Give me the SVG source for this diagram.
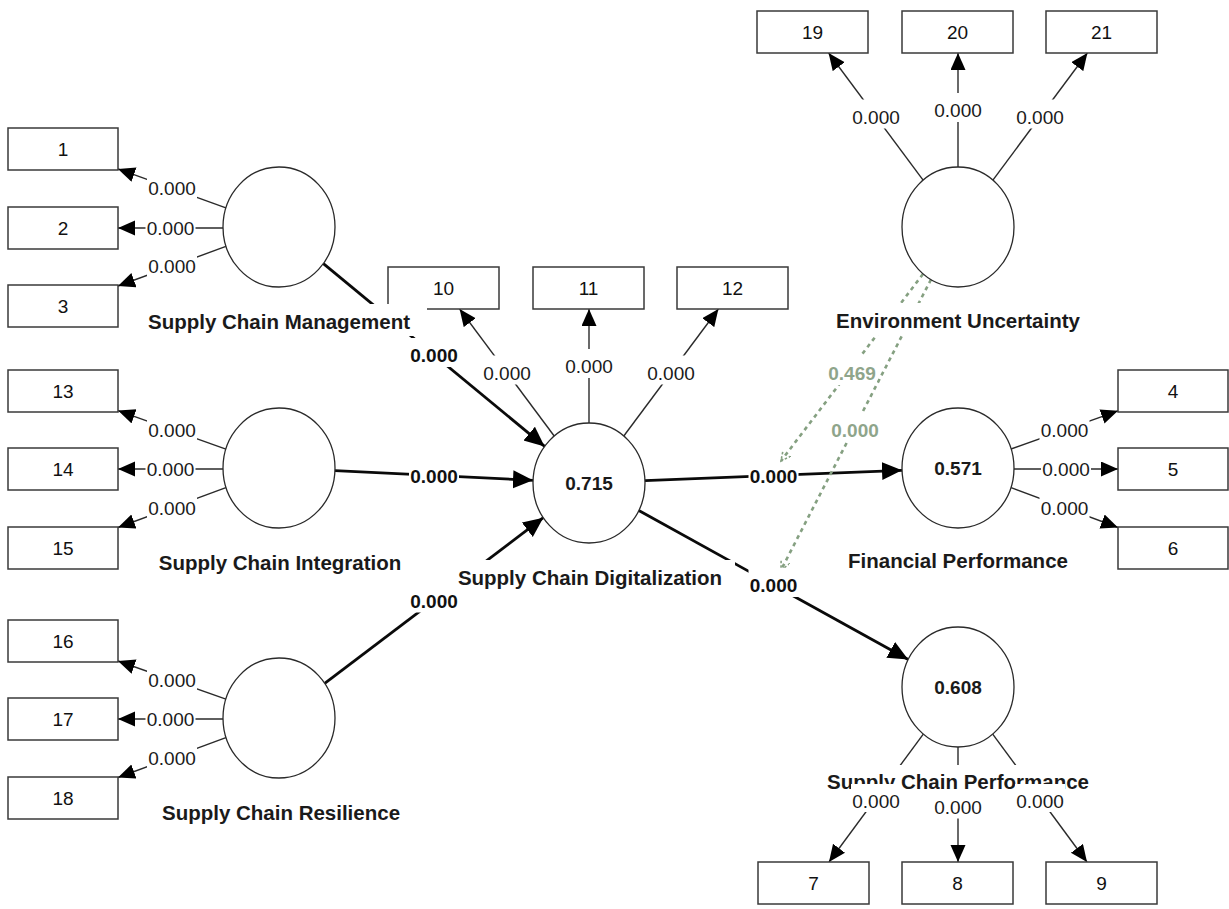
<svg xmlns="http://www.w3.org/2000/svg" width="1229" height="909" viewBox="0 0 1229 909">
<defs>
<style>
text{font-family:"Liberation Sans",Arial,sans-serif;}
.box{fill:#fff;stroke:#3a3a3a;stroke-width:1.5;}
.lv{fill:#fff;stroke:#2a2a2a;stroke-width:1.3;}
.bt{font-size:19px;fill:#111;text-anchor:middle;}
.ln{font-size:20.5px;font-weight:bold;fill:#1a1a1a;text-anchor:middle;}
.r2{font-size:19px;font-weight:bold;fill:#1a1a1a;text-anchor:middle;}
.thin{stroke:#2a2a2a;stroke-width:1.4;fill:none;marker-end:url(#ah);}
.thick{stroke:#0a0a0a;stroke-width:2.8;fill:none;marker-end:url(#ahb);}
.dash{stroke:#85a081;stroke-width:2.6;stroke-dasharray:4 4;fill:none;marker-end:url(#ahd);}
.bg{fill:#fff;}
.pl{font-size:19px;fill:#1a1a1a;text-anchor:middle;}
.plb{font-size:19px;font-weight:bold;fill:#111;text-anchor:middle;}
.plg{font-size:19px;font-weight:bold;fill:#8fa58b;text-anchor:middle;}
</style>
<marker id="ah" markerUnits="userSpaceOnUse" markerWidth="18" markerHeight="16" refX="17" refY="7.5" orient="auto"><path d="M0,0 L17,7.5 L0,15 Z" fill="#000"/></marker>
<marker id="ahb" markerUnits="userSpaceOnUse" markerWidth="21" markerHeight="19" refX="20" refY="9" orient="auto"><path d="M0,0 L20,9 L0,18 Z" fill="#000"/></marker>
<marker id="ahd" markerUnits="userSpaceOnUse" markerWidth="12" markerHeight="11" refX="10" refY="5" orient="auto"><path d="M0,0 L10,5 L0,10" fill="none" stroke="#85a081" stroke-width="1.6" stroke-dasharray="2.5 2"/></marker>
</defs>
<rect width="1229" height="909" fill="#fff"/>

<g id="connectors">
<line class="thin" x1="225.9" y1="207.8" x2="118" y2="168.9"/>
<line class="thin" x1="223" y1="228" x2="118" y2="228"/>
<line class="thin" x1="225.9" y1="246.4" x2="118" y2="286"/>
<line class="thin" x1="225.9" y1="449.1" x2="118" y2="410.6"/>
<line class="thin" x1="223" y1="469" x2="118" y2="469"/>
<line class="thin" x1="225.9" y1="487.6" x2="118" y2="527.5"/>
<line class="thin" x1="225.9" y1="699.1" x2="118" y2="661"/>
<line class="thin" x1="223" y1="719" x2="118" y2="719"/>
<line class="thin" x1="225.9" y1="737.6" x2="118" y2="777.5"/>
<line class="thin" x1="554.2" y1="436" x2="459.6" y2="309"/>
<line class="thin" x1="589" y1="423" x2="589" y2="309"/>
<line class="thin" x1="623.8" y1="436" x2="718.4" y2="309"/>
<line class="thin" x1="923.1" y1="180.1" x2="828.6" y2="53"/>
<line class="thin" x1="958" y1="167" x2="958" y2="53"/>
<line class="thin" x1="992.9" y1="180.1" x2="1087.4" y2="53"/>
<line class="thin" x1="1011.1" y1="449" x2="1118" y2="410.8"/>
<line class="thin" x1="1014" y1="469" x2="1118" y2="469"/>
<line class="thin" x1="1011.1" y1="487.6" x2="1118" y2="527.5"/>
<line class="thin" x1="923.3" y1="734.1" x2="829" y2="862"/>
<line class="thin" x1="958" y1="747" x2="958" y2="862"/>
<line class="thin" x1="992.7" y1="734.1" x2="1087" y2="862"/>
<line class="thick" x1="323.4" y1="263.6" x2="544.6" y2="446.4"/>
<line class="thick" x1="335" y1="470.7" x2="533" y2="480.3"/>
<line class="thick" x1="324.7" y1="683.3" x2="543.3" y2="517.7"/>
<line class="thick" x1="645" y1="480.7" x2="902" y2="470.3"/>
<line class="thick" x1="638.8" y1="510.5" x2="908.2" y2="659.5"/>
<line class="dash" x1="923" y1="274" x2="781" y2="461"/>
<line class="dash" x1="931" y1="279.5" x2="781" y2="570"/>
</g>

<g id="item-1"><rect class="box" x="8" y="128" width="110" height="42"/><text class="bt" x="63" y="156">1</text></g>
<g id="item-2"><rect class="box" x="8" y="207" width="110" height="42"/><text class="bt" x="63" y="235">2</text></g>
<g id="item-3"><rect class="box" x="8" y="285" width="110" height="42"/><text class="bt" x="63" y="313">3</text></g>
<g id="item-13"><rect class="box" x="8" y="370" width="110" height="42"/><text class="bt" x="63" y="398">13</text></g>
<g id="item-14"><rect class="box" x="8" y="448" width="110" height="42"/><text class="bt" x="63" y="476">14</text></g>
<g id="item-15"><rect class="box" x="8" y="527" width="110" height="42"/><text class="bt" x="63" y="555">15</text></g>
<g id="item-16"><rect class="box" x="8" y="620" width="110" height="42"/><text class="bt" x="63" y="648">16</text></g>
<g id="item-17"><rect class="box" x="8" y="698" width="110" height="42"/><text class="bt" x="63" y="726">17</text></g>
<g id="item-18"><rect class="box" x="8" y="777" width="110" height="42"/><text class="bt" x="63" y="805">18</text></g>
<g id="item-10"><rect class="box" x="388" y="267" width="111" height="42"/><text class="bt" x="443.5" y="295">10</text></g>
<g id="item-11"><rect class="box" x="533" y="267" width="111" height="42"/><text class="bt" x="588.5" y="295">11</text></g>
<g id="item-12"><rect class="box" x="677" y="267" width="111" height="42"/><text class="bt" x="732.5" y="295">12</text></g>
<g id="item-19"><rect class="box" x="757" y="11" width="111" height="42"/><text class="bt" x="812.5" y="39">19</text></g>
<g id="item-20"><rect class="box" x="902" y="11" width="111" height="42"/><text class="bt" x="957.5" y="39">20</text></g>
<g id="item-21"><rect class="box" x="1046" y="11" width="111" height="42"/><text class="bt" x="1101.5" y="39">21</text></g>
<g id="item-4"><rect class="box" x="1118" y="370" width="110" height="42"/><text class="bt" x="1173" y="398">4</text></g>
<g id="item-5"><rect class="box" x="1118" y="448" width="110" height="42"/><text class="bt" x="1173" y="476">5</text></g>
<g id="item-6"><rect class="box" x="1118" y="527" width="110" height="42"/><text class="bt" x="1173" y="555">6</text></g>
<g id="item-7"><rect class="box" x="758" y="862" width="111" height="42"/><text class="bt" x="813.5" y="890">7</text></g>
<g id="item-8"><rect class="box" x="902" y="862" width="111" height="42"/><text class="bt" x="957.5" y="890">8</text></g>
<g id="item-9"><rect class="box" x="1046" y="862" width="111" height="42"/><text class="bt" x="1101.5" y="890">9</text></g>

<g id="scm"><ellipse class="lv" cx="279" cy="227" rx="56" ry="60"/><rect class="bg" x="135" y="304" width="292" height="32"/><text class="ln" x="279" y="329">Supply Chain Management</text></g>
<g id="sci"><ellipse class="lv" cx="279" cy="468" rx="56" ry="60"/><rect class="bg" x="145" y="545" width="270" height="32"/><text class="ln" x="280" y="570">Supply Chain Integration</text></g>
<g id="scr"><ellipse class="lv" cx="279" cy="718" rx="56" ry="60"/><rect class="bg" x="148" y="795" width="266" height="32"/><text class="ln" x="281" y="820">Supply Chain Resilience</text></g>
<g id="scd"><ellipse class="lv" cx="589" cy="483" rx="56" ry="60"/><text class="r2" x="589" y="490">0.715</text><rect class="bg" x="445" y="560" width="290" height="32"/><text class="ln" x="590" y="585">Supply Chain Digitalization</text></g>
<g id="eu"><ellipse class="lv" cx="958" cy="227" rx="56" ry="60"/><rect class="bg" x="822" y="303" width="272" height="32"/><text class="ln" x="958" y="328">Environment Uncertainty</text></g>
<g id="fp"><ellipse class="lv" cx="958" cy="468" rx="56" ry="60"/><text class="r2" x="958" y="475">0.571</text><rect class="bg" x="838" y="543" width="240" height="32"/><text class="ln" x="958" y="568">Financial Performance</text></g>
<g id="scp"><ellipse class="lv" cx="958" cy="687" rx="56" ry="60"/><text class="r2" x="958" y="694">0.608</text><rect class="bg" x="815" y="765" width="286" height="32"/><text class="ln" x="958" y="789">Supply Chain Performance</text></g>

<g id="path-labels">
<rect class="bg" x="147" y="171" width="50" height="29"/><text class="pl" x="172" y="195">0.000</text>
<rect class="bg" x="145.5" y="211" width="50" height="29"/><text class="pl" x="170.5" y="235">0.000</text>
<rect class="bg" x="147" y="249" width="50" height="29"/><text class="pl" x="172" y="273">0.000</text>
<rect class="bg" x="147" y="413" width="50" height="29"/><text class="pl" x="172" y="437">0.000</text>
<rect class="bg" x="145.5" y="452" width="50" height="29"/><text class="pl" x="170.5" y="476">0.000</text>
<rect class="bg" x="147" y="490.5" width="50" height="29"/><text class="pl" x="172" y="514.5">0.000</text>
<rect class="bg" x="147" y="663" width="50" height="29"/><text class="pl" x="172" y="687">0.000</text>
<rect class="bg" x="145.5" y="702" width="50" height="29"/><text class="pl" x="170.5" y="726">0.000</text>
<rect class="bg" x="147" y="740.5" width="50" height="29"/><text class="pl" x="172" y="764.5">0.000</text>
<rect class="bg" x="482" y="355.5" width="50" height="29"/><text class="pl" x="507" y="379.5">0.000</text>
<rect class="bg" x="564" y="349" width="50" height="29"/><text class="pl" x="589" y="373">0.000</text>
<rect class="bg" x="646" y="355.5" width="50" height="29"/><text class="pl" x="671" y="379.5">0.000</text>
<rect class="bg" x="851" y="99.5" width="50" height="29"/><text class="pl" x="876" y="123.5">0.000</text>
<rect class="bg" x="933" y="93" width="50" height="29"/><text class="pl" x="958" y="117">0.000</text>
<rect class="bg" x="1015" y="99.5" width="50" height="29"/><text class="pl" x="1040" y="123.5">0.000</text>
<rect class="bg" x="1039.5" y="413" width="50" height="29"/><text class="pl" x="1064.5" y="437">0.000</text>
<rect class="bg" x="1041" y="452" width="50" height="29"/><text class="pl" x="1066" y="476">0.000</text>
<rect class="bg" x="1039.5" y="490.5" width="50" height="29"/><text class="pl" x="1064.5" y="514.5">0.000</text>
<rect class="bg" x="851" y="784" width="50" height="28"/><text class="pl" x="876" y="808">0.000</text>
<rect class="bg" x="933" y="790.5" width="50" height="28"/><text class="pl" x="958" y="814">0.000</text>
<rect class="bg" x="1015" y="784" width="50" height="28"/><text class="pl" x="1040" y="808">0.000</text>
<rect class="bg" x="409" y="338" width="50" height="29"/><text class="plb" x="434" y="362">0.000</text>
<rect class="bg" x="409" y="464" width="50" height="22"/><text class="plb" x="434" y="482.5">0.000</text>
<rect class="bg" x="409" y="583.5" width="50" height="29"/><text class="plb" x="434" y="607.5">0.000</text>
<rect class="bg" x="748.5" y="464" width="50" height="22"/><text class="plb" x="773.5" y="482.5">0.000</text>
<rect class="bg" x="748.5" y="568" width="50" height="29"/><text class="plb" x="773.5" y="592">0.000</text>
<rect class="bg" x="827" y="356" width="50" height="29"/><text class="plg" x="852" y="380">0.469</text>
<rect class="bg" x="830" y="413" width="50" height="29"/><text class="plg" x="855" y="437">0.000</text>
</g>
</svg>
